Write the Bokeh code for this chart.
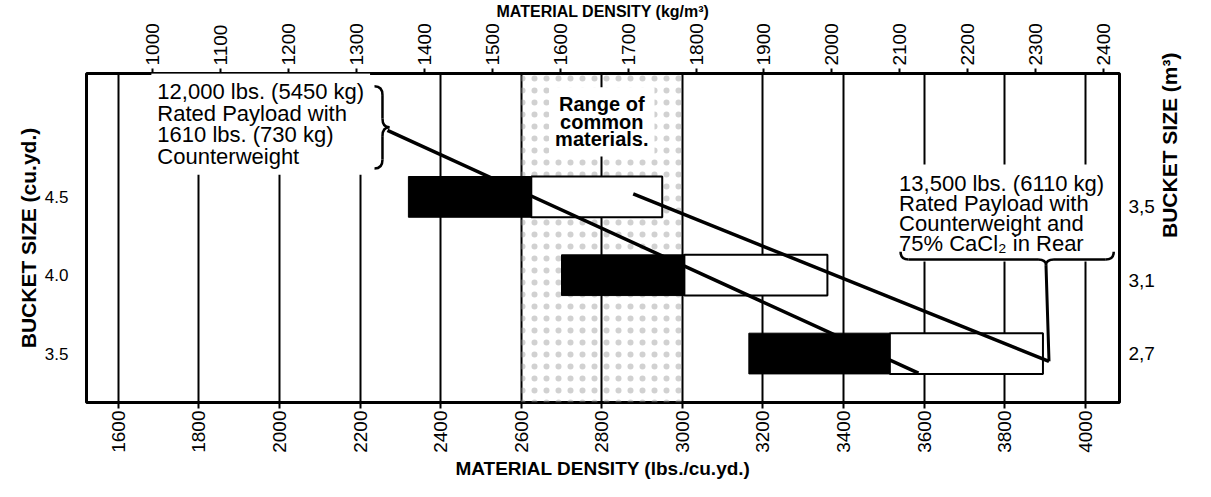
import math
from bokeh.plotting import figure
from bokeh.models import Range1d, LinearAxis, FixedTicker, Label
from bokeh.embed import file_html
from bokeh.resources import INLINE

# ---------------- data ----------------
bucket_sizes = [4.5, 4.0, 3.5]                 # cu.yd.
bucket_labels = ["4.5", "4.0", "3.5"]
bucket_sizes_m3 = [3.5, 3.1, 2.7]              # m3 equivalents (right axis)
bucket_labels_m3 = ["3,5", "3,1", "2,7"]

bar_black_start = [2320, 2700, 3165]           # lbs./cu.yd.
bar_black_end = [2625, 3005, 3515]
bar_white_end = [2950, 3360, 3895]

common_range = [2600, 3000]                    # range of common materials

payload_12000_x = [2268, 3586]
payload_12000_y = [4.925, 3.375]
payload_13500_x = [2878, 3910]
payload_13500_y = [4.519, 3.45]

lbs_ticks = [1600, 1800, 2000, 2200, 2400, 2600, 2800, 3000, 3200, 3400, 3600, 3800, 4000]
kg_ticks = [1000, 1100, 1200, 1300, 1400, 1500, 1600, 1700, 1800, 1900, 2000, 2100, 2200, 2300, 2400]
x_limits = [1521, 4085]
y_limits = [3.1875, 5.2875]
m3_limits = [2.4333, 4.2253]
LB_TO_KG = 0.593276

# ---------------- layout ----------------
W, H = 1195, 481
BL, BR, BT, BB = 86, 72, 70, 75
FRAME_W = W - BL - BR
FRAME_H = H - BT - BB
PX_X = (x_limits[1] - x_limits[0]) / FRAME_W
PX_Y = (y_limits[1] - y_limits[0]) / FRAME_H

FONT = "Liberation Sans"

p = figure(width=W, height=H, output_backend="svg", toolbar_location=None,
           x_range=Range1d(*x_limits), y_range=Range1d(*y_limits),
           min_border_left=BL, min_border_right=BR, min_border_top=BT, min_border_bottom=BB,
           background_fill_color="white", border_fill_color="white")
p.outline_line_color = "black"
p.outline_line_width = 3
p.ygrid.visible = False
p.xgrid.ticker = FixedTicker(ticks=lbs_ticks)
p.xgrid.grid_line_color = "black"
p.xgrid.grid_line_width = 2

def style_axis(ax, size, title_size="21px"):
    ax.axis_line_color = None
    ax.minor_tick_line_color = None
    ax.major_tick_in = 0
    ax.major_tick_line_color = "black"
    ax.major_tick_line_width = 2
    ax.major_label_text_font = FONT
    ax.major_label_text_font_size = size
    ax.major_label_text_color = "black"
    ax.axis_label_text_font = FONT
    ax.axis_label_text_font_style = "bold"
    ax.axis_label_text_font_size = title_size
    ax.axis_label_text_color = "black"

# bottom axis
xb = p.xaxis[0]
xb.ticker = FixedTicker(ticks=lbs_ticks)
style_axis(xb, "19px", "19px")
xb.major_tick_out = 6
xb.major_label_orientation = math.pi / 2
xb.major_label_standoff = 2
xb.axis_label = "MATERIAL DENSITY (lbs./cu.yd.)"
xb.axis_label_standoff = 2

# left axis
yl = p.yaxis[0]
yl.ticker = FixedTicker(ticks=bucket_sizes)
yl.major_label_overrides = dict(zip(bucket_sizes, bucket_labels))
style_axis(yl, "17px")
yl.major_tick_out = 0
yl.major_tick_line_color = None
yl.major_label_standoff = 18
yl.axis_label = "BUCKET SIZE (cu.yd.)"
yl.axis_label_standoff = 2

# right axis (metric)
p.extra_y_ranges = {"m3": Range1d(*m3_limits)}
yr = LinearAxis(y_range_name="m3", ticker=FixedTicker(ticks=bucket_sizes_m3),
                major_label_overrides=dict(zip(bucket_sizes_m3, bucket_labels_m3)))
style_axis(yr, "19px")
yr.major_tick_out = 0
yr.major_tick_line_color = None
yr.major_label_standoff = 9
yr.axis_label = "BUCKET SIZE (m³)"
yr.axis_label_standoff = 12
yr.axis_label_orientation = math.pi / 2
p.add_layout(yr, "right")

# top axis (kg/m3)
p.extra_x_ranges = {"kg": Range1d(x_limits[0] * LB_TO_KG, x_limits[1] * LB_TO_KG)}
xt = LinearAxis(x_range_name="kg", ticker=FixedTicker(ticks=kg_ticks))
style_axis(xt, "19px", "16px")
xt.major_tick_out = 5
xt.major_label_orientation = math.pi / 2
xt.major_label_standoff = 3
xt.axis_label = "MATERIAL DENSITY (kg/m³)"
xt.axis_label_standoff = 0
p.add_layout(xt, "above")

# ---------------- glyphs ----------------
p.quad(left=[common_range[0]], right=[common_range[1]],
       bottom=[y_limits[0]], top=[y_limits[1]],
       fill_alpha=0, line_color=None,
       hatch_pattern="dot", hatch_color="#9a9a9a", hatch_scale=12,
       hatch_weight=1, hatch_alpha=0.45)

BAR_H = 0.26
p.hbar(y=bucket_sizes, left=bar_black_start, right=bar_black_end, height=BAR_H,
       fill_color="black", line_color="black", line_width=1)
p.hbar(y=bucket_sizes, left=bar_black_end, right=bar_white_end, height=BAR_H,
       fill_color="white", line_color="black", line_width=2)

p.line(payload_12000_x, payload_12000_y, line_color="black", line_width=3.5)
p.line(payload_13500_x, payload_13500_y, line_color="black", line_width=3.5)

def draw_brace(tip_x, tip_y, segs, width=2.5):
    x0, y0, x1, y1, cx, cy = [], [], [], [], [], []
    for (sx, sy), (ex, ey), (kx, ky) in segs:
        x0.append(tip_x + sx * PX_X); y0.append(tip_y - sy * PX_Y)
        x1.append(tip_x + ex * PX_X); y1.append(tip_y - ey * PX_Y)
        cx.append(tip_x + kx * PX_X); cy.append(tip_y - ky * PX_Y)
    p.quadratic(x0=x0, y0=y0, x1=x1, y1=y1, cx=cx, cy=cy,
                line_color="black", line_width=width, level="overlay")

# vertical brace "}" pointing at the start of the 12,000 lbs line
brace_v = [((-15, -42), (-7, -33), (-7, -42)),
           ((-7, -33), (-7, -9), (-7, -21)),
           ((-7, -9), (0, 0), (-7, 0)),
           ((0, 0), (-7, 9), (-7, 0)),
           ((-7, 9), (-7, 33), (-7, 21)),
           ((-7, 33), (-15, 42), (-7, 42))]
draw_brace(payload_12000_x[0] + 2 * PX_X, payload_12000_y[0] + 3 * PX_Y, brace_v)

# horizontal brace under the 13,500 lbs note, with a stem to the line end
tip2_x = payload_13500_x[1] - 3 * PX_X
tip2_y = payload_13500_y[1] + 98 * PX_Y
brace_h = [((-146, -14), (-138, -6), (-146, -6)),
           ((-138, -6), (-8, -6), (-73, -6)),
           ((-8, -6), (0, 0), (0, -6)),
           ((0, 0), (8, -6), (0, -6)),
           ((8, -6), (60, -6), (34, -6)),
           ((60, -6), (68, -14), (68, -6))]
draw_brace(tip2_x, tip2_y, brace_h)
p.segment(x0=[tip2_x], y0=[tip2_y], x1=[payload_13500_x[1]], y1=[payload_13500_y[1]],
          line_color="black", line_width=3, level="overlay")

# ---------------- annotations ----------------
def note(x, y, text, align="left", bold=False, size="22px", lh=0.85):
    lab = Label(x=x, y=y, text=text, text_font=FONT, text_font_size=size,
                text_font_style="bold" if bold else "normal",
                text_align=align, text_baseline="top", text_color="black",
                text_line_height=lh,
                background_fill_color="white", padding=6)
    p.add_layout(lab)

note(1682, 5.289,
     "12,000 lbs. (5450 kg)\nRated Payload with\n1610 lbs. (730 kg)\nCounterweight", lh=0.86)
note(sum(common_range) / 2, 5.2, "Range of\ncommon\nmaterials.",
     align="center", bold=True, size="20px", lh=0.8)
note(3523, 4.706,
     "13,500 lbs. (6110 kg)\nRated Payload with\nCounterweight and\n75% CaCl\u2082 in Rear",
     lh=0.8)

open("out.html", "w").write(file_html(p, INLINE))
